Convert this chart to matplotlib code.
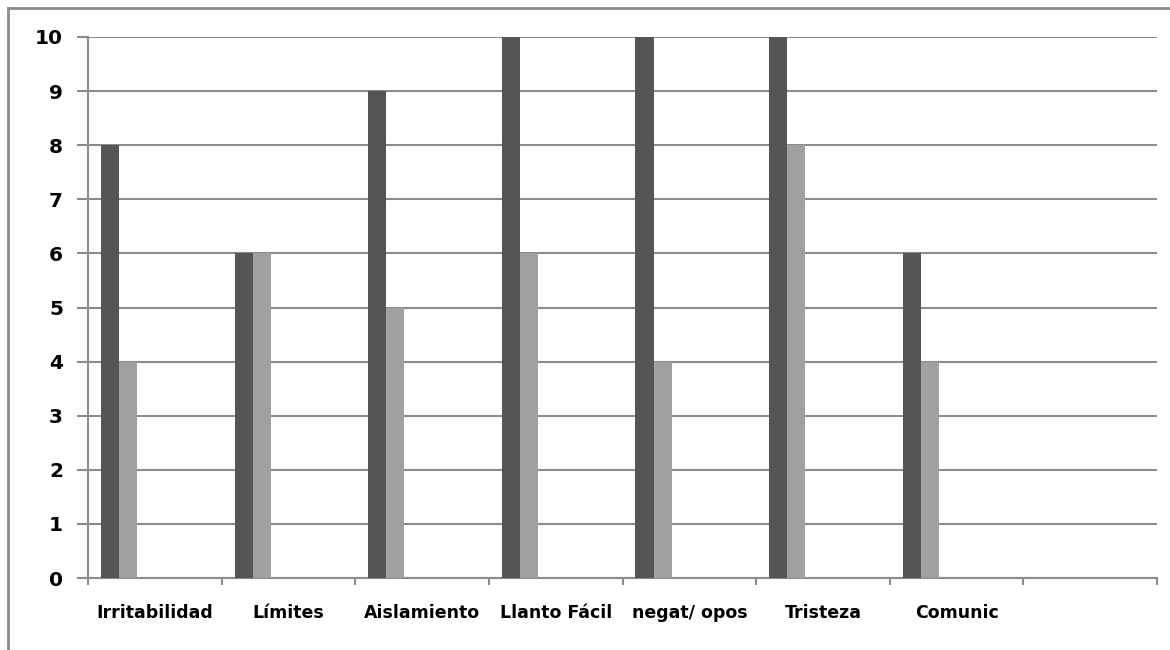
import numpy as np
import matplotlib
matplotlib.use("Agg")
from matplotlib import pyplot as plt
from matplotlib.lines import Line2D

# categorias y valores de las dos series
categorias = ["Irritabilidad", "Límites", "Aislamiento", "Llanto Fácil",
              "negat/ opos", "Tristeza", "Comunic", ""]
serie_1 = [8, 6, 9, 10, 10, 10, 6, 0]
serie_2 = [4, 6, 5, 6, 4, 8, 4, 0]
yticks = list(range(0, 11))

gris_linea = "#8c8c8c"

plt.rcParams['font.family'] = 'DejaVu Sans'
plt.rcParams['font.weight'] = 'bold'

fig = plt.figure(figsize=(11.7, 6.5), dpi=100)
ax = fig.add_axes([88 / 1170, 1 - 578 / 650, (1157 - 88) / 1170, (578 - 37) / 650])

n = len(categorias)
x = np.arange(n)
ancho = 0.135
ax.bar(x + 0.097, serie_1, width=ancho, align='edge', color="#555555", zorder=3)
ax.bar(x + 0.097 + ancho, serie_2, width=ancho, align='edge', color="#a0a0a0", zorder=3)

ax.set_xlim(0, n)
ax.set_ylim(0, 10)
ax.set_yticks(yticks)
ax.set_yticklabels([str(v) for v in yticks], fontsize=14.5, fontweight='bold')
ax.yaxis.grid(True, color=gris_linea, linewidth=1.5, zorder=0)

# etiquetas centradas en cada grupo, marcas en los limites
ax.set_xticks(x + 0.5)
ax.set_xticklabels(categorias, fontsize=12.5, fontweight='bold')
ax.set_xticks(np.arange(n + 1), minor=True)
ax.tick_params(axis='x', which='major', length=0, pad=19)
ax.tick_params(axis='x', which='minor', length=5, width=1.5, color=gris_linea)
ax.tick_params(axis='y', length=8, width=1.5, color=gris_linea, pad=10)

for lado in ["top", "right"]:
    ax.spines[lado].set_visible(False)
for lado in ["left", "bottom"]:
    ax.spines[lado].set_color(gris_linea)
    ax.spines[lado].set_linewidth(1.5)

# marco exterior (solo arriba e izquierda)
fig.add_artist(Line2D([8 / 1170, 1], [1 - 8 / 650, 1 - 8 / 650],
                      color=gris_linea, linewidth=2, transform=fig.transFigure))
fig.add_artist(Line2D([8 / 1170, 8 / 1170], [0, 1 - 8 / 650],
                      color=gris_linea, linewidth=2, transform=fig.transFigure))

fig.savefig("out.png", dpi=100)
